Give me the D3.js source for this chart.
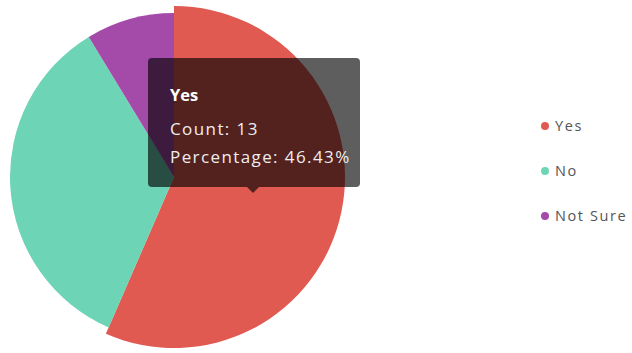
<!DOCTYPE html>
<html>
<head>
<meta charset="utf-8">
<script src="https://cdn.jsdelivr.net/npm/d3@7/dist/d3.min.js"></script>
<style>
  html, body { margin: 0; padding: 0; background: #fff; }
  svg { display: block; }
  text { font-family: "Open Sans", Lato, sans-serif; }
</style>
</head>
<body>
<svg id="chart" width="632" height="353"></svg>
<script>
// Survey answers
const categories = ["Yes", "No", "Not Sure"];
const counts = [13, 8, 2];
const colors = ["#e05a52", "#6dd4b6", "#a44aa8"];
// Total respondents used for the percentage readout
const totalRespondents = 28;
// Slice currently highlighted (hovered)
const activeIndex = 0;

const svg = d3.select("#chart");
const cx = 174, cy = 177;
const radius = 164;
const hoverRadius = 171;

const data = categories.map((c, i) => ({ label: c, count: counts[i], color: colors[i] }));

const pie = d3.pie().sort(null).value(d => d.count);
const arcs = pie(data);

const arc = d3.arc().innerRadius(0).outerRadius(radius);
const arcHover = d3.arc().innerRadius(0).outerRadius(hoverRadius);

const g = svg.append("g").attr("transform", `translate(${cx},${cy})`);

g.selectAll("path")
  .data(arcs)
  .join("path")
  .attr("d", (d, i) => i === activeIndex ? arcHover(d) : arc(d))
  .attr("fill", d => d.data.color);

// Legend
const color = d3.scaleOrdinal().domain(categories).range(colors);
const legendY = d3.scalePoint().domain(categories).range([126, 216]);
const legend = svg.append("g");
const items = legend.selectAll("g")
  .data(categories)
  .join("g")
  .attr("transform", d => `translate(545,${legendY(d)})`);
items.append("circle").attr("r", 4).attr("fill", d => color(d));
items.append("text")
  .attr("x", 10)
  .attr("dy", "0.35em")
  .attr("font-size", 14.5)
  .attr("letter-spacing", 1.6)
  .attr("fill", "#555")
  .text(d => d);

// Tooltip for the highlighted slice
const active = data[activeIndex];
const pct = (active.count / totalRespondents * 100).toFixed(2);
const tip = svg.append("g").attr("transform", "translate(148,58)");
const tw = 212, th = 129;
tip.append("rect")
  .attr("width", tw).attr("height", th)
  .attr("rx", 4)
  .attr("fill", "rgba(0,0,0,0.63)");
tip.append("path")
  .attr("d", `M${105 - 6},${th} L${105 + 6},${th} L${105},${th + 6} Z`)
  .attr("fill", "rgba(0,0,0,0.63)");
tip.append("text")
  .attr("x", 22).attr("y", 43)
  .attr("font-size", 16.5).attr("font-weight", "bold")
  .attr("fill", "#fff")
  .text(active.label);
tip.selectAll("text.line")
  .data([`Count: ${active.count}`, `Percentage: ${pct}%`])
  .join("text")
  .attr("class", "line")
  .attr("x", 22)
  .attr("y", (d, i) => 77 + i * 28)
  .attr("font-size", 17)
  .attr("letter-spacing", 1.4)
  .attr("fill", "#eee")
  .text(d => d);
</script>
</body>
</html>
